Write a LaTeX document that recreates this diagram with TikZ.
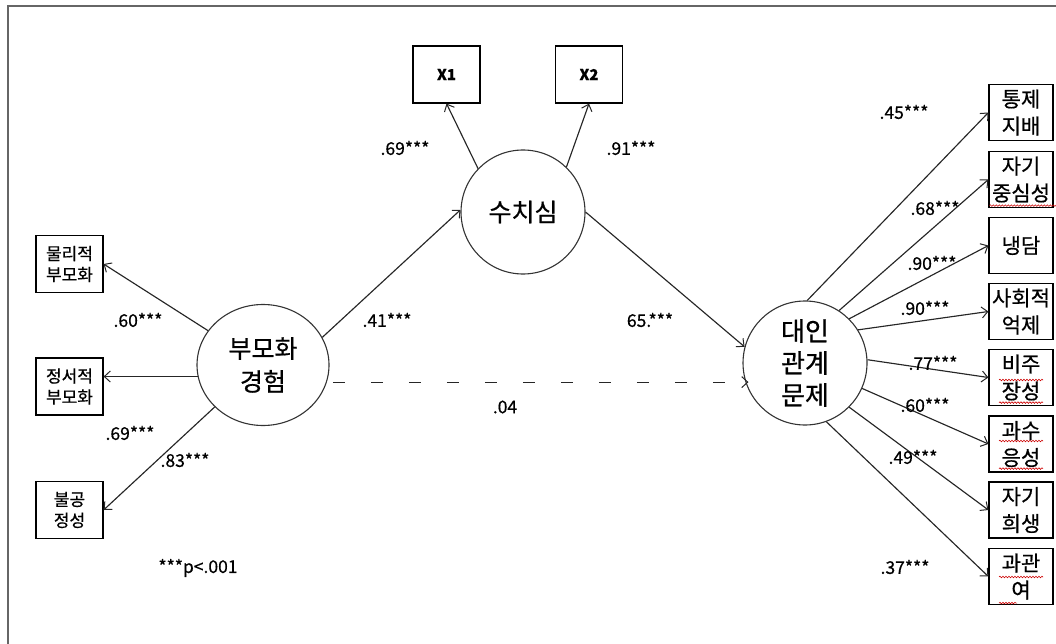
\documentclass[tikz,border=0pt]{standalone}
\usepackage{fontspec}
\setmainfont{Noto Sans CJK KR}[FakeBold=0.6]
\usetikzlibrary{arrows.meta,shapes.geometric,decorations.pathmorphing}
\begin{document}
\begin{tikzpicture}[x=1pt,y=-1pt,
  arr/.style={draw=black!85, line width=1.15pt, -{Straight Barb[length=6pt,width=11pt,line width=1pt]}},
  lat/.style={draw=black!80, line width=1.1pt, circle, minimum size=124pt, inner sep=0pt, align=center, font=\fontsize{25}{32}\selectfont},
  lbox/.style={draw, line width=1.2pt, minimum width=67pt, minimum height=57pt, inner sep=0pt, align=center, font=\fontsize{17}{21}\selectfont},
  rbox/.style={draw, line width=1.2pt, minimum width=64pt, minimum height=56pt, inner sep=0pt, align=center, font=\fontsize{21}{27}\selectfont},
  xbox/.style={draw, line width=1.2pt, minimum width=67pt, minimum height=57pt, inner sep=0pt, font=\fontsize{15}{18}\selectfont\bfseries},
  lab/.style={font=\fontsize{17.5}{19}\selectfont, inner sep=0pt},
  squig/.style={draw=red!80!black, line width=0.6pt, decorate, decoration={snake, segment length=3pt, amplitude=0.8pt}}
]
\useasboundingbox (0,0) rectangle (1056,644);
% frame (top and left edges)
\draw[black!60, line width=1.5pt] (8,644) -- (8,6) -- (1056,6);

% latent variables
\node[lat, ellipse, minimum width=132pt, minimum height=121pt, font=\fontsize{25}{33}\selectfont] (bu) at (263,365) {부모화\\경험};
\node[lat] (su) at (523,212) {수치심};
\node[lat, font=\fontsize{26}{32}\selectfont] (dae) at (805,363) {대인\\관계\\문제};

% indicators of 수치심
\node[xbox] (x1) at (446.5,74.5) {X1};
\node[xbox] (x2) at (589,74.5) {X2};

% indicators of 부모화 경험
\node[lbox] (mul) at (69.5,264) {물리적\\부모화};
\node[lbox] (jeong) at (69.5,386.5) {정서적\\부모화};
\node[lbox] (gong) at (69.5,510) {불공\\정성};

% indicators of 대인관계문제
\node[rbox] (r1) at (1021,112.5) {통제\\지배};
\node[rbox] (r2) at (1021,179.5) {자기\\중심성};
\node[rbox] (r3) at (1021,245.5) {냉담};
\node[rbox] (r4) at (1021,311.5) {사회적\\억제};
\node[rbox] (r5) at (1021,377.5) {비주\\장성};
\node[rbox] (r6) at (1021,444) {과수\\응성};
\node[rbox] (r7) at (1021,510) {자기\\희생};
\node[rbox] (r8) at (1021,576.5) {과관\\여};

% spell-check squiggles
\draw[squig] ([shift={(1pt,2.5pt)}]r2.south west) -- ([shift={(4pt,2.5pt)}]r2.south east);
\draw[squig] ([shift={(-22pt,-2.5pt)}]r5.center) -- ([shift={(22pt,-2.5pt)}]r5.center);
\draw[squig] ([shift={(-22pt,3.5pt)}]r5.south) -- ([shift={(22pt,3.5pt)}]r5.south);
\draw[squig] ([shift={(-22pt,3pt)}]r6.center) -- ([shift={(22pt,3pt)}]r6.center);
\draw[squig] ([shift={(-22pt,4pt)}]r6.south) -- ([shift={(22pt,4pt)}]r6.south);
\draw[squig] ([shift={(-22pt,-0.5pt)}]r8.center) -- ([shift={(22pt,-0.5pt)}]r8.center);
\draw[squig] ([shift={(-22pt,2pt)}]r8.south) -- ([shift={(-4pt,2pt)}]r8.south);

% paths
\draw[arr] (bu.148) -- (mul.east);
\draw[arr] (bu.190) -- (bu.190 -| jeong.east);
\draw[arr] (bu.221) -- (gong.east);
\draw[arr] (bu.25) -- (su.178);
\draw[arr] (su.136) -- (x1.south);
\draw[arr] (su.46) -- (x2.south);
\draw[arr] (su.0) -- (dae.165);
\draw[arr, dash pattern=on 12pt off 26pt] ([xshift=6pt]bu.-15) -- ([xshift=6pt]bu.-15 -| dae.west);

\draw[arr] (dae.88) -- (r1.west);
\draw[arr] (dae.57) -- (r2.west);
\draw[arr] (dae.45) -- (r3.west);
\draw[arr] (dae.32) -- (r4.west);
\draw[arr] (dae.3) -- (r5.west);
\draw[arr] (dae.-24) -- (r6.west);
\draw[arr] (dae.-45) -- (r7.west);
\draw[arr] (dae.-70) -- (r8.west);

% coefficients
\node[lab] (l1) at (138,320) {.60***};
\node[lab] (l2) at (130,433) {.69***};
\node[lab] (l3) at (185,460) {.83***};
\node[lab] (l4) at (387,320) {.41***};
\node[lab] (l5) at (405,148) {.69***};
\node[lab] (l6) at (631,148) {.91***};
\node[lab] (l7) at (650,320) {65.***};
\node[lab] (l8) at (505,407) {.04};
\node[lab] (l9) at (904,112) {.45***};
\node[lab] (l10) at (935,208) {.68***};
\node[lab] (l11) at (932,263) {.90***};
\node[lab] (l12) at (925,308) {.90***};
\node[lab] (l13) at (933,363) {.77***};
\node[lab] (l14) at (925,405) {.60***};
\node[lab] (l15) at (913,457) {.49***};
\node[lab] (l16) at (905,567) {.37***};
\node[lab] (note) at (198,568) {***p<.001};
\end{tikzpicture}
\end{document}
